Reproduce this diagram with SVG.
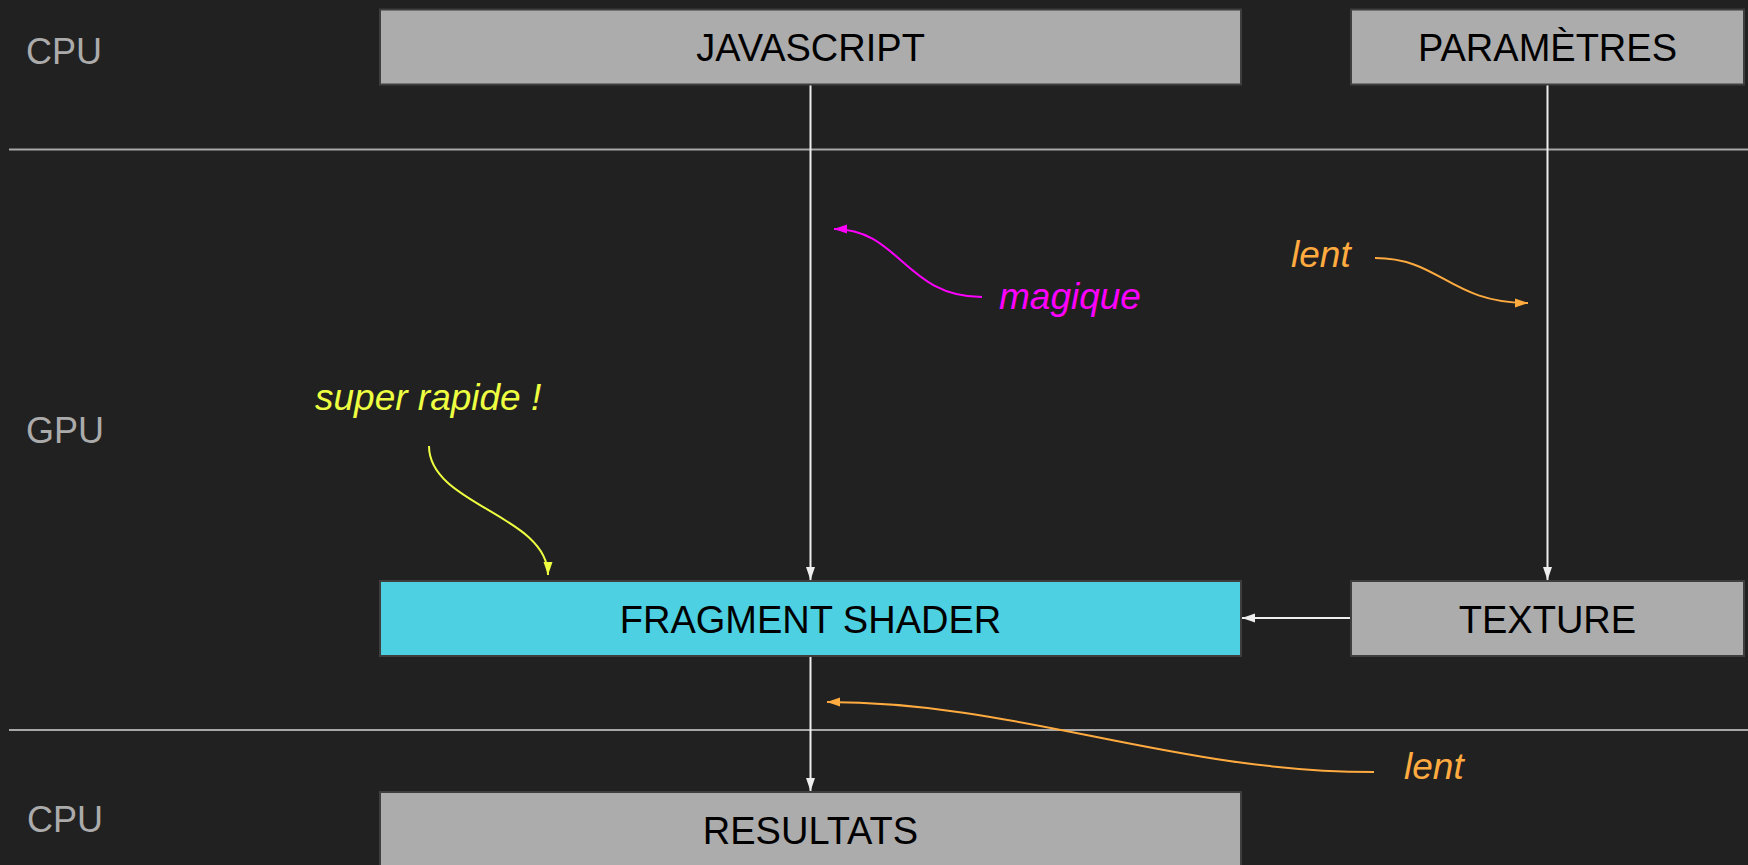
<svg xmlns="http://www.w3.org/2000/svg" width="1748" height="865" viewBox="0 0 1748 865">
<style>
.box{fill:#acacac;stroke:#3e3e3e;stroke-width:2}
.frag{fill:#4dd0e1;stroke:#3e3e3e;stroke-width:2}
.bt{font-family:"Liberation Sans",Arial,sans-serif;font-size:38px;fill:#000;text-anchor:middle}
.lbl{font-family:"Liberation Sans",Arial,sans-serif;font-size:36px;fill:#ababab}
.ann{font-family:"Liberation Sans",Arial,sans-serif;font-size:37px;font-style:italic}
.sep{stroke:#a8a8a8;stroke-width:2}
.conn{stroke:#eeeeee;stroke-width:2;fill:none}
.curve{stroke-width:2;fill:none}
</style>
<defs>
<marker id="aw" markerUnits="userSpaceOnUse" markerWidth="14" markerHeight="10" refX="13" refY="5" orient="auto"><path d="M0,0.5 L13,5 L0,9.5 Z" fill="#eeeeee"/></marker>
<marker id="am" markerUnits="userSpaceOnUse" markerWidth="14" markerHeight="10" refX="13" refY="5" orient="auto"><path d="M0,0.5 L13,5 L0,9.5 Z" fill="#ff00ff"/></marker>
<marker id="ao" markerUnits="userSpaceOnUse" markerWidth="14" markerHeight="10" refX="13" refY="5" orient="auto"><path d="M0,0.5 L13,5 L0,9.5 Z" fill="#ffab40"/></marker>
<marker id="ay" markerUnits="userSpaceOnUse" markerWidth="14" markerHeight="10" refX="13" refY="5" orient="auto"><path d="M0,0.5 L13,5 L0,9.5 Z" fill="#eeff41"/></marker>
</defs>
<rect width="1748" height="865" fill="#212121"/>
<g id="separators">
<line class="sep" x1="9" y1="149.5" x2="1748" y2="149.5"/>
<line class="sep" x1="9" y1="730" x2="1748" y2="730"/>
</g>
<g id="labels">
<text class="lbl" x="26" y="63.5">CPU</text>
<text class="lbl" x="26" y="442.5">GPU</text>
<text class="lbl" x="27" y="831.5">CPU</text>
</g>
<g id="connectors">
<line class="conn" x1="810.5" y1="85" x2="810.5" y2="580" marker-end="url(#aw)"/>
<line class="conn" x1="1547.5" y1="85" x2="1547.5" y2="580" marker-end="url(#aw)"/>
<line class="conn" x1="1350" y1="618" x2="1242" y2="618" marker-end="url(#aw)"/>
<line class="conn" x1="810.5" y1="657" x2="810.5" y2="791" marker-end="url(#aw)"/>
<path class="curve" stroke="#ff00ff" d="M982,297 C905,297 900,229 834,229" marker-end="url(#am)"/>
<path class="curve" stroke="#ffab40" d="M1375,258 C1440,258 1450,303 1528,303" marker-end="url(#ao)"/>
<path class="curve" stroke="#ffab40" d="M1374,772 C1170,772 1020,702 827,702" marker-end="url(#ao)"/>
<path class="curve" stroke="#eeff41" d="M429,446 C429,505 548,515 548,575" marker-end="url(#ay)"/>
</g>
<g id="javascript"><rect class="box" x="380" y="9.5" width="861" height="75"/><text class="bt" x="810.5" y="61">JAVASCRIPT</text></g>
<g id="parametres"><rect class="box" x="1351" y="9.5" width="393" height="75"/><text class="bt" x="1547.5" y="61">PARAMÈTRES</text></g>
<g id="fragment-shader"><rect class="frag" x="380" y="581" width="861" height="75"/><text class="bt" x="810.5" y="632.5">FRAGMENT SHADER</text></g>
<g id="texture"><rect class="box" x="1351" y="581" width="393" height="75"/><text class="bt" x="1547.5" y="632.5">TEXTURE</text></g>
<g id="resultats"><rect class="box" x="380" y="792" width="861" height="75"/><text class="bt" x="810.5" y="843.5">RESULTATS</text></g>
<g id="annotations">
<text class="ann" fill="#ff00ff" x="999" y="309">magique</text>
<text class="ann" fill="#ffab40" x="1291" y="267">lent</text>
<text class="ann" fill="#ffab40" x="1404" y="779">lent</text>
<text class="ann" fill="#eeff41" x="315" y="410">super rapide !</text>
</g>
</svg>
